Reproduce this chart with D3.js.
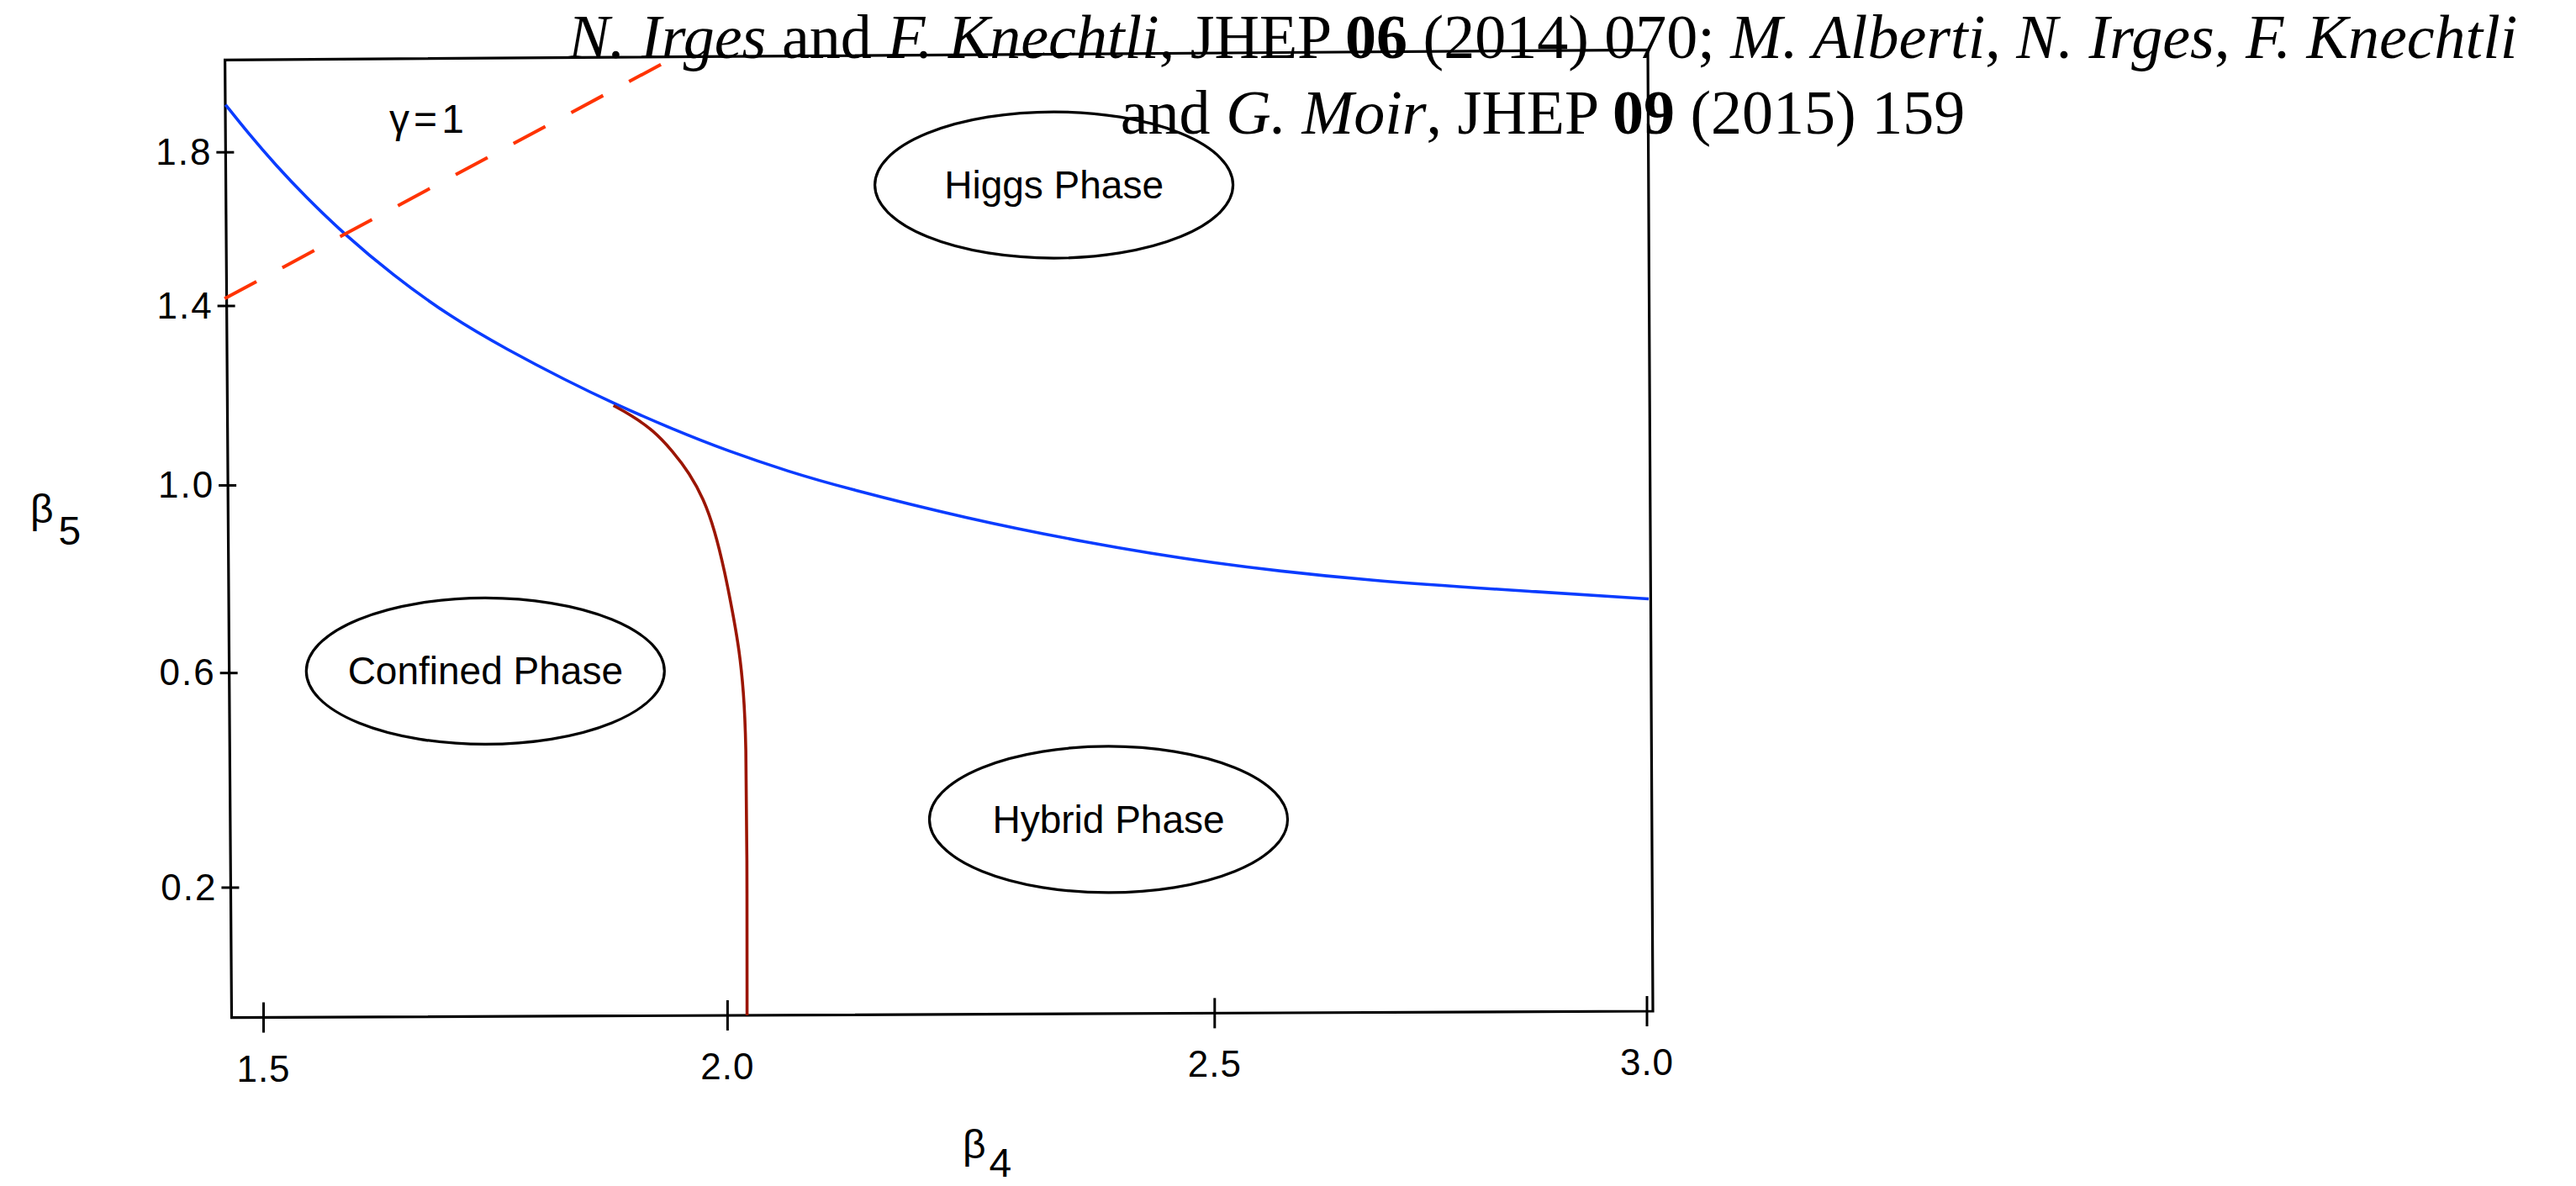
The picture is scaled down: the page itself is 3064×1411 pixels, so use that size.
<!DOCTYPE html>
<html><head><meta charset="utf-8">
<script src="https://cdn.jsdelivr.net/npm/d3@7"></script>
<style>html,body{margin:0;padding:0;background:#fff;} svg{display:block} text{white-space:pre}</style>
</head><body>
<svg id="chart" width="3064" height="1411"></svg>
<script>
// ---- data ----
const xTicks = [1.5, 2.0, 2.5, 3.0];
const yTicks = [1.8, 1.4, 1.0, 0.6, 0.2];

// blue transition line (beta4, beta5)
const blueB4 = [1.459, 1.483, 1.514, 1.545, 1.586, 1.639, 1.701, 1.763, 1.826, 1.876, 1.941, 2.001, 2.064, 2.116, 2.246, 2.366, 2.491, 2.681, 2.886, 3.002];
const blueB5 = [1.924, 1.851, 1.764, 1.685, 1.589, 1.481, 1.376, 1.302, 1.234, 1.184, 1.125, 1.076, 1.030, 0.997, 0.929, 0.879, 0.835, 0.795, 0.772, 0.758];

// dark red transition line
const redB4 = [1.877, 1.895, 1.920, 1.941, 1.959, 1.974, 1.986, 1.997, 2.005, 2.012, 2.0165, 2.019, 2.020, 2.020];
const redB5 = [1.178, 1.158, 1.123, 1.076, 1.027, 0.972, 0.906, 0.816, 0.732, 0.650, 0.565, 0.476, 0.266, -0.038];

// gamma = 1 dashed line
const gammaB4 = [1.458, 1.930];
const gammaB5 = [1.419, 2.031];
const gammaLabel = "γ=1";
const gammaLabelPos = [1.678, 1.851];

// phase labels
const phaseNames = ["Confined Phase", "Higgs Phase", "Hybrid Phase"];
const phaseB4 = [1.739, 2.335, 2.391];
const phaseB5 = [0.604, 1.715, 0.327];

// citation
const citeLine1 = [["N. Irges","i"],[" and ","r"],["F. Knechtli","i"],[", JHEP ","r"],["06","b"],[" (2014) 070; ","r"],["M. Alberti","i"],[", ","r"],["N. Irges","i"],[", ","r"],["F. Knechtli","i"]];
const citeLine2 = [["and ","r"],["G. Moir","i"],[", JHEP ","r"],["09","b"],[" (2015) 159","r"]];

// ---- layout ----
const svg = d3.select("#chart");
const x = d3.scaleLinear().domain(xTicks).range([313.5, 865.4, 1444.8, 1959]);
const y = d3.scaleLinear().domain(yTicks).range([181.2, 364, 577.5, 800.7, 1056]);

// hand-drawn frame corners
const TL = [267.6, 71.4], TR = [1960, 59.4], BR = [1966, 1203], BL = [275.5, 1210.7];
const leftX = py => TL[0] + (py - TL[1]) / (BL[1] - TL[1]) * (BL[0] - TL[0]);
const bottomY = px => BL[1] + (px - BL[0]) / (BR[0] - BL[0]) * (BR[1] - BL[1]);

svg.append("path")
  .attr("d", `M${TL}L${TR}L${BR}L${BL}Z`)
  .attr("fill", "none").attr("stroke", "#000").attr("stroke-width", 3.2)
  .attr("stroke-linejoin", "miter");

const tickFont = "'Liberation Sans', Arial, sans-serif";

// y axis
const gy = svg.append("g")
  .call(d3.axisLeft(y).tickValues(yTicks).tickFormat(d3.format(".1f")).tickSizeOuter(0));
gy.select(".domain").remove();
gy.selectAll(".tick").attr("transform", d => `translate(${leftX(y(d))},${y(d)})`);
gy.selectAll(".tick line").attr("x1", -11).attr("x2", 10).attr("stroke", "#000").attr("stroke-width", 3);
gy.selectAll(".tick text").attr("x", -16).attr("dy", "0.33em")
  .attr("font-family", tickFont).attr("font-size", 44).attr("fill", "#000")
  .attr("letter-spacing", 2).attr("text-anchor", "end");

// x axis
const gx = svg.append("g")
  .call(d3.axisBottom(x).tickValues(xTicks).tickFormat(d3.format(".1f")).tickSizeOuter(0));
gx.select(".domain").remove();
gx.selectAll(".tick").attr("transform", d => `translate(${x(d)},${bottomY(x(d))})`);
gx.selectAll(".tick line").attr("y1", -18).attr("y2", 18).attr("stroke", "#000").attr("stroke-width", 3);
gx.selectAll(".tick text").attr("y", 76).attr("dy", 0)
  .attr("font-family", tickFont).attr("font-size", 44).attr("fill", "#000").attr("letter-spacing", 1);

// axis titles
const yt = svg.append("text").attr("x", 36).attr("y", 622)
  .attr("font-family", tickFont).attr("font-size", 48).attr("fill", "#000");
yt.append("tspan").text("β");
yt.append("tspan").attr("dx", 6).attr("dy", 26).text("5");
const xt = svg.append("text").attr("x", 1145).attr("y", 1378)
  .attr("font-family", tickFont).attr("font-size", 48).attr("fill", "#000");
xt.append("tspan").text("β");
xt.append("tspan").attr("dx", 4).attr("dy", 22).text("4");

// lines
const idx = a => d3.range(a.length);
const blueLine = d3.line().x(i => x(blueB4[i])).y(i => y(blueB5[i])).curve(d3.curveBasis);
svg.append("path").attr("d", blueLine(idx(blueB4)))
  .attr("fill", "none").attr("stroke", "#0a3cff").attr("stroke-width", 3.6);

const redLine = d3.line().x(i => x(redB4[i])).y(i => y(redB5[i])).curve(d3.curveBasis);
svg.append("path").attr("d", redLine(idx(redB4)))
  .attr("fill", "none").attr("stroke", "#9b1500").attr("stroke-width", 3.6);

const gLine = d3.line().x(i => x(gammaB4[i])).y(i => y(gammaB5[i]));
svg.append("path").attr("d", gLine(idx(gammaB4)))
  .attr("fill", "none").attr("stroke", "#ff3300").attr("stroke-width", 4)
  .attr("stroke-dasharray", "43 35");

svg.append("text").attr("x", x(gammaLabelPos[0])).attr("y", y(gammaLabelPos[1]))
  .attr("text-anchor", "middle").attr("font-family", tickFont).attr("font-size", 48)
  .attr("letter-spacing", 5).attr("fill", "#000").text(gammaLabel);

// phase ellipses
const ph = svg.append("g").selectAll("g").data(phaseNames).join("g")
  .attr("transform", (d, i) => `translate(${x(phaseB4[i])},${y(phaseB5[i])})`);
ph.append("ellipse").attr("rx", 213).attr("ry", 87)
  .attr("fill", "none").attr("stroke", "#000").attr("stroke-width", 3.2);
ph.append("text").attr("y", 16).attr("text-anchor", "middle")
  .attr("font-family", tickFont).attr("font-size", 46).attr("fill", "#000").text(d => d);

// citation
const citeFont = "'Liberation Serif', 'Times New Roman', serif";
[[citeLine1, 69], [citeLine2, 158.5]].forEach(([segs, by]) => {
  const t = svg.append("text").attr("x", 1835).attr("y", by).attr("text-anchor", "middle")
    .attr("font-family", citeFont).attr("font-size", 74).attr("fill", "#000");
  segs.forEach(([s, st]) => {
    t.append("tspan").text(s)
      .attr("font-style", st === "i" ? "italic" : "normal")
      .attr("font-weight", st === "b" ? "bold" : "normal");
  });
});
</script>
</body></html>
